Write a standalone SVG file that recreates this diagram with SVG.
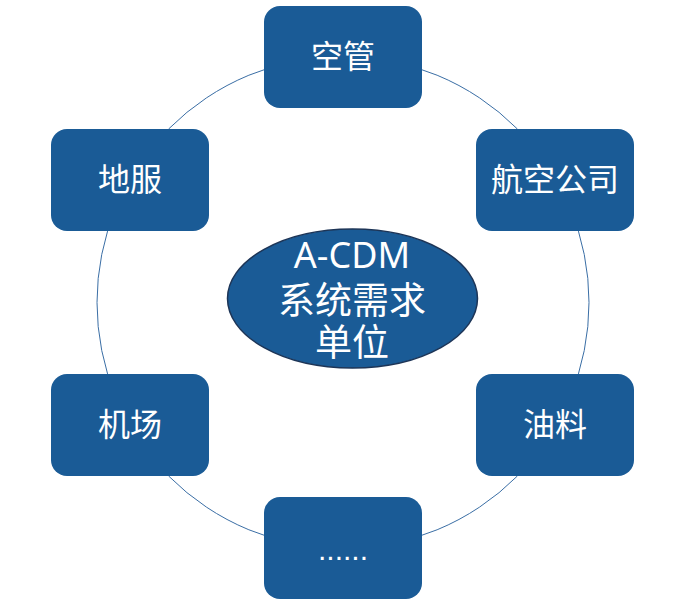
<svg xmlns="http://www.w3.org/2000/svg" width="678" height="608" viewBox="0 0 678 608">
<style>
.box{fill:#1a5b96;}
.lbl{fill:#ffffff;font-family:"Noto Sans CJK SC","Liberation Sans",sans-serif;font-size:32px;text-anchor:middle;}
.mid{fill:#ffffff;font-family:"Liberation Sans","Noto Sans CJK SC",sans-serif;font-size:37px;text-anchor:middle;}
.ring{fill:none;stroke:#3a6ea5;stroke-width:1;}
</style>
<rect width="678" height="608" fill="#ffffff"/>
<g id="connectors">
<circle class="ring" cx="343" cy="302.5" r="246"/>
</g>
<g id="center">
<ellipse cx="352.5" cy="298.5" rx="125" ry="69.5" fill="#1a5b96" stroke="#1d3557" stroke-width="1.5"/>
<text class="mid"><tspan x="352" y="268" style="font-family:'Noto Sans','Liberation Sans',sans-serif;font-size:36px">A-CDM</tspan><tspan x="352" y="314">系统需求</tspan><tspan x="352" y="356">单位</tspan></text>
</g>
<g id="kongguan">
<rect class="box" x="264" y="6" width="158" height="102" rx="16"/>
<text class="lbl" x="343" y="68">空管</text>
</g>
<g id="hangkong">
<rect class="box" x="476" y="129" width="158" height="102" rx="16"/>
<text class="lbl" x="555" y="191">航空公司</text>
</g>
<g id="youliao">
<rect class="box" x="476" y="374" width="158" height="102" rx="16"/>
<text class="lbl" x="555" y="436">油料</text>
</g>
<g id="more">
<rect class="box" x="264" y="497" width="158" height="102" rx="16"/>
<text class="lbl" style="font-family:'Liberation Sans',sans-serif;font-size:30px" x="343" y="560">......</text>
</g>
<g id="jichang">
<rect class="box" x="51" y="374" width="158" height="102" rx="16"/>
<text class="lbl" x="130" y="436">机场</text>
</g>
<g id="difu">
<rect class="box" x="51" y="129" width="158" height="102" rx="16"/>
<text class="lbl" x="130" y="191">地服</text>
</g>
</svg>
